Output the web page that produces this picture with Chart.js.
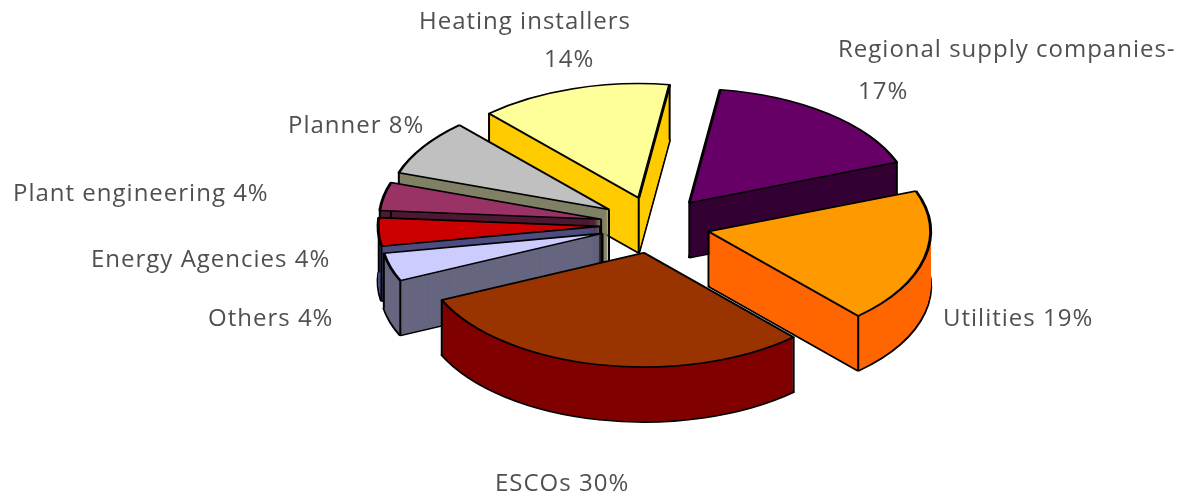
<!DOCTYPE html>
<html>
<head>
    <title>Market actors</title>
    <script src="https://cdn.jsdelivr.net/npm/chart.js"></script>
    <style>
        body { margin: 0; background: #fff; }
        #box { width: 1183px; height: 494px; }
        canvas { filter: blur(0.5px); }
    </style>
</head>
<body>
    <div id="box"><canvas id="pieChart" width="1183" height="494"></canvas></div>
    <script>
        const categories = ['Regional supply companies-', 'Utilities', 'ESCOs', 'Others', 'Energy Agencies', 'Plant engineering', 'Planner', 'Heating installers'];
        const shares = [17, 19, 30, 4, 4, 4, 8, 14];
        const topColors = ['#660066', '#FF9900', '#993300', '#CCCCFF', '#CC0000', '#993366', '#C0C0C0', '#FFFF99'];
        const wallColors = ['#330033', '#FF6600', '#800000', '#666680', '#4D4D80', '#4D1A33', '#808066', '#FFCC00'];
        // back to front, so the nearer slices cover the walls behind them
        const drawOrder = [7, 0, 6, 5, 4, 1, 3, 2];
        // [x, y of first line, y of second line, x of second line]
        const labelSpots = [[838, 50, 92, 858], [943, 319], [495, 484], [208, 319], [91, 260], [13, 194], [288, 126], [419, 22, 60, 544]];

        const SQUASH = 0.515;
        const CENTER_Y = 225;
        const EXPLODE = 55;
        const DEPTH = 55;

        function paintArc(ctx, arc, shift, depth, fill, border) {
            const mid = (arc.startAngle + arc.endAngle) / 2;
            const saved = arc.options;
            ctx.save();
            ctx.translate(0, CENTER_Y + depth);
            ctx.scale(1, SQUASH);
            ctx.translate(Math.cos(mid) * shift, Math.sin(mid) * shift - arc.y);
            arc.options = Object.assign({}, saved, {
                backgroundColor: fill,
                borderColor: border || fill,
                borderWidth: border ? 3 : 0
            });
            arc.draw(ctx);
            arc.options = saved;
            ctx.restore();
        }

        function paintEdges(ctx, arc) {
            const mid = (arc.startAngle + arc.endAngle) / 2;
            const tipX = arc.x + Math.cos(mid) * EXPLODE;
            const tipY = Math.sin(mid) * EXPLODE;
            const corners = [[tipX, tipY]];
            [arc.startAngle, arc.endAngle].forEach(a => {
                corners.push([tipX + Math.cos(a) * arc.outerRadius, tipY + Math.sin(a) * arc.outerRadius]);
            });
            ctx.save();
            ctx.strokeStyle = '#000';
            ctx.lineWidth = 2;
            corners.forEach(c => {
                const y = CENTER_Y + c[1] * SQUASH;
                ctx.beginPath();
                ctx.moveTo(c[0], y);
                ctx.lineTo(c[0], y + DEPTH);
                ctx.stroke();
            });
            ctx.restore();
        }

        const pie3d = {
            id: 'pie3d',
            beforeDatasetsDraw(chart) {
                const ctx = chart.ctx;
                const arcs = chart.getDatasetMeta(0).data;
                drawOrder.forEach(i => {
                    const arc = arcs[i];
                    paintArc(ctx, arc, EXPLODE, DEPTH, wallColors[i], '#000');
                    for (let d = DEPTH - 1; d > 0; d--) {
                        paintArc(ctx, arc, EXPLODE, d, wallColors[i]);
                    }
                    paintEdges(ctx, arc);
                    paintArc(ctx, arc, EXPLODE, 0, topColors[i], '#000');
                });
                return false;
            },
            afterDraw(chart) {
                const ctx = chart.ctx;
                ctx.save();
                ctx.font = '24px "Open Sans"';
                ctx.letterSpacing = '1px';
                ctx.fillStyle = '#505050';
                ctx.textBaseline = 'middle';
                categories.forEach((name, i) => {
                    const spot = labelSpots[i];
                    if (spot.length > 2) {
                        ctx.fillText(name, spot[0], spot[1]);
                        ctx.fillText(shares[i] + '%', spot[3], spot[2]);
                    } else {
                        ctx.fillText(name + ' ' + shares[i] + '%', spot[0], spot[1]);
                    }
                });
                ctx.restore();
            }
        };

        new Chart(document.getElementById('pieChart'), {
            type: 'pie',
            data: {
                labels: categories,
                datasets: [{ data: shares, backgroundColor: topColors, radius: 222 }]
            },
            options: {
                responsive: false,
                animation: false,
                rotation: 8,
                layout: { padding: { left: 127 } },
                plugins: { legend: { display: false }, tooltip: { enabled: false } }
            },
            plugins: [pie3d]
        });
    </script>
</body>
</html>
